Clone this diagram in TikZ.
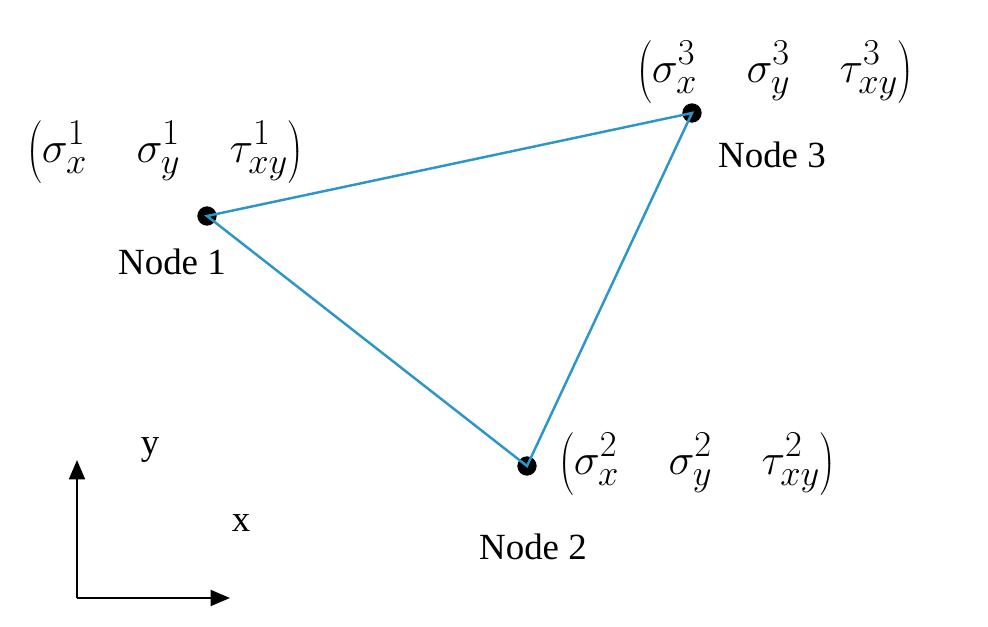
\documentclass[tikz,border=0pt]{standalone}
\usepackage{fontspec}
\setmainfont{Liberation Serif}
\usetikzlibrary{arrows.meta}
\begin{document}
\begin{tikzpicture}[x=0.02cm,y=-0.02cm,
  lbl/.style={font=\fontsize{21}{25}\selectfont},
  tup/.style={font=\fontsize{28}{34}\selectfont,inner sep=0pt},
  dot/.style={circle,fill=black,inner sep=0pt,minimum size=11pt},
  edge/.style={draw={rgb,255:red,45;green,150;blue,200},line width=1.4pt},
  ax/.style={line width=1.3pt,-{Triangle[length=11pt,width=9pt]}}]
\useasboundingbox (0,0) rectangle (988,626);
\node[dot] (n1) at (207,216) {};
\node[dot] (n3) at (692,113) {};
\node[dot] (n2) at (527,466) {};
\draw[edge] (n1.center) -- (n3.center) -- (n2.center) -- cycle;
\node[lbl] (l1) at (172,262) {Node 1};
\node[lbl] (l3) at (772,155) {Node 3};
\node[lbl] (l2) at (533,547) {Node 2};
\node[tup] (t1) at (165,152) {$\displaystyle\left(\vphantom{\int}\sigma_x^1\quad\sigma_y^1\quad\tau_{xy}^1\right)$};
\node[tup] (t3) at (775,72) {$\displaystyle\left(\vphantom{\int}\sigma_x^3\quad\sigma_y^3\quad\tau_{xy}^3\right)$};
\node[tup] (t2) at (697,464) {$\displaystyle\left(\vphantom{\int}\sigma_x^2\quad\sigma_y^2\quad\tau_{xy}^2\right)$};
\coordinate (o) at (77,598);
\coordinate (ya) at (77,460);
\coordinate (xa) at (230,598);
\draw[ax] (o) -- (ya);
\draw[ax] (o) -- (xa);
\node[lbl] (y) at (150,450) {y};
\node[lbl] (x) at (241,523) {x};
\end{tikzpicture}
\end{document}
